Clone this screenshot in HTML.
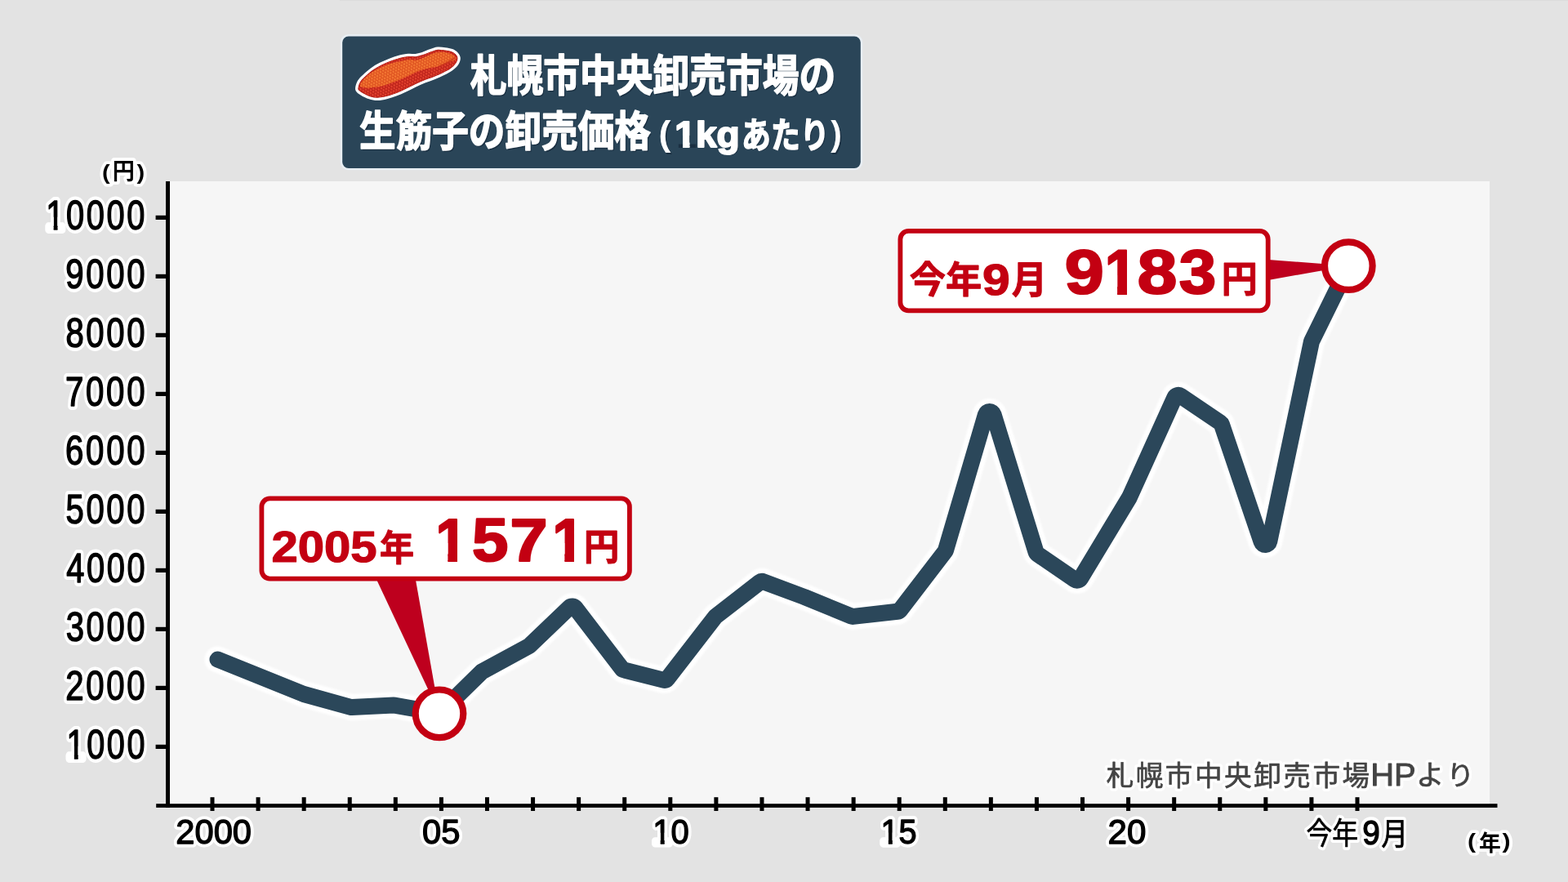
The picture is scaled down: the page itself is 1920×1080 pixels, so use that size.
<!DOCTYPE html>
<html lang="ja"><head><meta charset="utf-8"><title>札幌市中央卸売市場の生筋子の卸売価格</title>
<style>
html,body{margin:0;padding:0;background:#e3e3e3;}
body{width:1920px;height:1080px;overflow:hidden;font-family:"Liberation Sans","Noto Sans CJK JP",sans-serif;}
svg{display:block;position:absolute;left:0;top:0}
text{font-family:"Liberation Sans","Noto Sans CJK JP",sans-serif;font-kerning:none;white-space:pre}
.halo text{stroke:#fff;stroke-linejoin:round;fill:#fff}
</style></head>
<body>
<svg width="1920" height="1080" viewBox="0 0 1920 1080" role="img">
<desc>札幌市中央卸売市場の生筋子の卸売価格(1kgあたり) 2005年 1571円 / 今年9月 9183円 — 札幌市中央卸売市場HPより</desc>
<defs><filter id="soft" x="-5%" y="-20%" width="110%" height="140%"><feGaussianBlur stdDeviation="0.55"/></filter><filter id="soft2" x="-5%" y="-5%" width="110%" height="110%"><feGaussianBlur stdDeviation="1.1"/></filter><pattern id="roe" width="3.6" height="6.24" patternUnits="userSpaceOnUse" patternTransform="rotate(-24)"><circle cx="0.9" cy="1.56" r="1.4" fill="#e4432f"/><circle cx="2.7" cy="4.68" r="1.4" fill="#e4432f"/></pattern><pattern id="roe2" width="3.6" height="6.24" patternUnits="userSpaceOnUse" patternTransform="rotate(-24)"><circle cx="0.9" cy="1.56" r="1.4" fill="#f57a34"/><circle cx="2.7" cy="4.68" r="1.4" fill="#f57a34"/></pattern><clipPath id="kr16"><path d="M-20 -90H90V-30H35.58V5H23.55V-30H-20Z"/></clipPath><clipPath id="kr17"><path d="M-20 -90H90V-30H35.72V5H23.41V-30H-20Z"/></clipPath><clipPath id="kb15"><path d="M-20 -90H90V-30H38.59V5H21.81V-30H-20Z"/></clipPath><clipPath id="kb16"><path d="M-20 -90H90V-30H38.64V5H21.76V-30H-20Z"/></clipPath><clipPath id="kb23"><path d="M-20 -90H90V-30H39.37V5H21.03V-30H-20Z"/></clipPath></defs>
<rect width="1920" height="1080" fill="#e3e3e3"/>
<rect x="416" y="0" width="1504" height="1" fill="#dcdcdc"/>
<rect x="208" y="222" width="1616" height="764" fill="#f6f6f6"/>
<g transform="scale(1.0 1)" fill="none" stroke-linejoin="round" stroke-linecap="round"><path d="M266.5 807.5L372 850L429.23 865.79A5 5 0 0 0 430.8 865.96L481.93 863.53A5 5 0 0 1 483.06 863.6L535.46 873.04A5 5 0 0 0 539.84 871.69L589.5 822.99A5 5 0 0 1 590.62 822.17L647.41 791.32A5 5 0 0 0 648.48 790.54L697.16 743.88A5 5 0 0 1 704.59 744.44L761.44 818.62A5 5 0 0 0 764.18 820.43L812.14 832.62A5 5 0 0 0 817.33 830.83L875.61 755.5A5 5 0 0 1 876.5 754.61L930.19 712.99A5 5 0 0 1 935 712.26L985 731L1042.31 754.51A5 5 0 0 0 1044.77 754.86L1098.89 748.74A5 5 0 0 0 1102.29 746.81L1157.23 675.24A5 5 0 0 0 1158.06 673.61L1206.94 507.59A5 5 0 0 1 1216.51 507.53L1268.49 675.83A5 5 0 0 0 1270.44 678.48L1316.11 709.74A5 5 0 0 0 1323.22 708.19L1383 609L1438.3 486.75A5 5 0 0 1 1445.66 484.68L1494.11 517.56A5 5 0 0 1 1496.04 520.09L1544.67 663.6A5 5 0 0 0 1554.3 663.03L1605.87 418.61A5 5 0 0 1 1606.28 417.44L1651.5 325.5" stroke="#fff" stroke-width="32" filter="url(#soft2)"/>
<path d="M266.5 807.5L372 850L429.23 865.79A5 5 0 0 0 430.8 865.96L481.93 863.53A5 5 0 0 1 483.06 863.6L535.46 873.04A5 5 0 0 0 539.84 871.69L589.5 822.99A5 5 0 0 1 590.62 822.17L647.41 791.32A5 5 0 0 0 648.48 790.54L697.16 743.88A5 5 0 0 1 704.59 744.44L761.44 818.62A5 5 0 0 0 764.18 820.43L812.14 832.62A5 5 0 0 0 817.33 830.83L875.61 755.5A5 5 0 0 1 876.5 754.61L930.19 712.99A5 5 0 0 1 935 712.26L985 731L1042.31 754.51A5 5 0 0 0 1044.77 754.86L1098.89 748.74A5 5 0 0 0 1102.29 746.81L1157.23 675.24A5 5 0 0 0 1158.06 673.61L1206.94 507.59A5 5 0 0 1 1216.51 507.53L1268.49 675.83A5 5 0 0 0 1270.44 678.48L1316.11 709.74A5 5 0 0 0 1323.22 708.19L1383 609L1438.3 486.75A5 5 0 0 1 1445.66 484.68L1494.11 517.56A5 5 0 0 1 1496.04 520.09L1544.67 663.6A5 5 0 0 0 1554.3 663.03L1605.87 418.61A5 5 0 0 1 1606.28 417.44L1651.5 325.5" stroke="#2b475a" stroke-width="20"/></g>
<g fill="#000">
<rect x="203" y="222" width="5" height="767"/>
<rect x="191.2" y="984.2" width="1642.3" height="4.7"/>
<rect x="190.6" y="911.8" width="15" height="5.2"/>
<rect x="190.6" y="839.8" width="15" height="5.2"/>
<rect x="190.6" y="767.8" width="15" height="5.2"/>
<rect x="190.6" y="695.8" width="15" height="5.2"/>
<rect x="190.6" y="623.8" width="15" height="5.2"/>
<rect x="190.6" y="551.8" width="15" height="5.2"/>
<rect x="190.6" y="479.8" width="15" height="5.2"/>
<rect x="190.6" y="407.8" width="15" height="5.2"/>
<rect x="190.6" y="335.8" width="15" height="5.2"/>
<rect x="190.6" y="263.8" width="15" height="5.2"/>
<rect x="257.5" y="976.2" width="5" height="16.8"/>
<rect x="313.58" y="976.2" width="5" height="16.8"/>
<rect x="369.66" y="976.2" width="5" height="16.8"/>
<rect x="425.74" y="976.2" width="5" height="16.8"/>
<rect x="481.82" y="976.2" width="5" height="16.8"/>
<rect x="537.9" y="976.2" width="5" height="16.8"/>
<rect x="593.98" y="976.2" width="5" height="16.8"/>
<rect x="650.06" y="976.2" width="5" height="16.8"/>
<rect x="706.14" y="976.2" width="5" height="16.8"/>
<rect x="762.22" y="976.2" width="5" height="16.8"/>
<rect x="818.3" y="976.2" width="5" height="16.8"/>
<rect x="874.38" y="976.2" width="5" height="16.8"/>
<rect x="930.46" y="976.2" width="5" height="16.8"/>
<rect x="986.54" y="976.2" width="5" height="16.8"/>
<rect x="1042.62" y="976.2" width="5" height="16.8"/>
<rect x="1098.7" y="976.2" width="5" height="16.8"/>
<rect x="1154.78" y="976.2" width="5" height="16.8"/>
<rect x="1210.86" y="976.2" width="5" height="16.8"/>
<rect x="1266.94" y="976.2" width="5" height="16.8"/>
<rect x="1323.02" y="976.2" width="5" height="16.8"/>
<rect x="1379.1" y="976.2" width="5" height="16.8"/>
<rect x="1435.18" y="976.2" width="5" height="16.8"/>
<rect x="1491.26" y="976.2" width="5" height="16.8"/>
<rect x="1547.34" y="976.2" width="5" height="16.8"/>
<rect x="1603.42" y="976.2" width="5" height="16.8"/>
<rect x="1659.5" y="976.2" width="5" height="16.8"/>
</g>
<g class="halo" filter="url(#soft)" aria-hidden="true" font-size="100">
<g transform="translate(81.54 928.76) scale(0.39609 0.49999)" stroke-width="20.09"><text x="0" letter-spacing="6.6">1000</text></g>
<g transform="translate(80.13 856.76) scale(0.40201 0.49999)" stroke-width="19.96"><text x="0" letter-spacing="6.6">2000</text></g>
<g transform="translate(80.63 784.76) scale(0.39992 0.49999)" stroke-width="20"><text x="0" letter-spacing="6.6">3000</text></g>
<g transform="translate(81.24 712.76) scale(0.39736 0.49999)" stroke-width="20.06"><text x="0" letter-spacing="6.6">4000</text></g>
<g transform="translate(80.55 640.76) scale(0.40025 0.49999)" stroke-width="19.99"><text x="0" letter-spacing="6.6">5000</text></g>
<g transform="translate(80.11 568.76) scale(0.40210 0.49999)" stroke-width="19.95"><text x="0" letter-spacing="6.6">6000</text></g>
<g transform="translate(80.09 496.76) scale(0.40218 0.49999)" stroke-width="19.95"><text x="0" letter-spacing="6.6">7000</text></g>
<g transform="translate(80.41 424.76) scale(0.40084 0.49999)" stroke-width="19.98"><text x="0" letter-spacing="6.6">8000</text></g>
<g transform="translate(80.27 352.76) scale(0.40143 0.49999)" stroke-width="19.97"><text x="0" letter-spacing="6.6">9000</text></g>
<g transform="translate(56.32 280.76) scale(0.39801 0.49999)" stroke-width="20.05"><text x="0" letter-spacing="6.6">10000</text></g>
<g transform="translate(215.3 1032.63) scale(0.41681 0.42726)" stroke-width="21.09"><text x="0">2000</text></g>
<g transform="translate(517.07 1032.63) scale(0.41697 0.42726)" stroke-width="21.08"><text x="0">05</text></g>
<g transform="translate(799.35 1032.63) scale(0.40018 0.42726)" stroke-width="21.51"><text x="0">10</text></g>
<g transform="translate(1078.59 1032.63) scale(0.39625 0.43353)" stroke-width="21.45"><text x="0">15</text></g>
<g transform="translate(1356.58 1032.63) scale(0.42133 0.42726)" stroke-width="20.98"><text x="0">20</text></g>
<g transform="translate(1668.18 1034.09) scale(0.38752 0.42090)" stroke-width="22.02"><text x="0">9</text></g>
<g transform="translate(1599.45 1034.11) scale(0.3181 0.3735)" stroke-width="21.69"><text x="0">今年</text></g>
<g transform="translate(1691.45 1033.8) scale(0.3259 0.3766)" stroke-width="21.35"><text x="0">月</text></g>
<g transform="translate(1796.93 1039.43) scale(0.3029 0.2609)" stroke-width="26.61" font-weight="bold"><text x="0">(</text></g>
<g transform="translate(1810.91 1042.25) scale(0.2687 0.2722)" stroke-width="27.73" font-weight="bold"><text x="0">年</text></g>
<g transform="translate(1839.42 1039.43) scale(0.3029 0.2609)" stroke-width="26.61" font-weight="bold"><text x="0">)</text></g>
<g transform="translate(125.03 219.63) scale(0.2905 0.2657)" stroke-width="26.97" font-weight="bold"><text x="0">(</text></g>
<g transform="translate(137.83 220.01) scale(0.2712 0.2800)" stroke-width="27.21" font-weight="bold"><text x="0">円</text></g>
<g transform="translate(167.49 219.63) scale(0.2905 0.2657)" stroke-width="26.97" font-weight="bold"><text x="0">)</text></g>
<g transform="translate(1354.63 961.54) scale(0.3360 0.3362)" stroke-width="22.32"><text x="0" letter-spacing="7.5">札幌市中央卸売市場</text></g>
<g transform="translate(1678.17 961.55) scale(0.39940 0.37937)" stroke-width="21.57"><text x="0">HP</text></g>
<g transform="translate(1733.97 960.73) scale(0.3447 0.3402)" stroke-width="21.9"><text x="0">よ</text></g>
<g transform="translate(1771.03 961.1) scale(0.3453 0.3337)" stroke-width="22.09"><text x="0">り</text></g>
</g>
<g><g transform="translate(81.54 928.76) scale(0.39609 0.49999)" font-size="100" fill="#000" stroke="#000" stroke-width="3" stroke-linejoin="round"><text transform="translate(0 0)" clip-path="url(#kr16)">1</text><text x="62.22" letter-spacing="6.6">000</text></g><g transform="translate(80.13 856.76) scale(0.40201 0.49999)" font-size="100" fill="#000" stroke="#000" stroke-width="3" stroke-linejoin="round"><text x="0" letter-spacing="6.6">2000</text></g><g transform="translate(80.63 784.76) scale(0.39992 0.49999)" font-size="100" fill="#000" stroke="#000" stroke-width="3" stroke-linejoin="round"><text x="0" letter-spacing="6.6">3000</text></g><g transform="translate(81.24 712.76) scale(0.39736 0.49999)" font-size="100" fill="#000" stroke="#000" stroke-width="3" stroke-linejoin="round"><text x="0" letter-spacing="6.6">4000</text></g><g transform="translate(80.55 640.76) scale(0.40025 0.49999)" font-size="100" fill="#000" stroke="#000" stroke-width="3" stroke-linejoin="round"><text x="0" letter-spacing="6.6">5000</text></g><g transform="translate(80.11 568.76) scale(0.40210 0.49999)" font-size="100" fill="#000" stroke="#000" stroke-width="3" stroke-linejoin="round"><text x="0" letter-spacing="6.6">6000</text></g><g transform="translate(80.09 496.76) scale(0.40218 0.49999)" font-size="100" fill="#000" stroke="#000" stroke-width="3" stroke-linejoin="round"><text x="0" letter-spacing="6.6">7000</text></g><g transform="translate(80.41 424.76) scale(0.40084 0.49999)" font-size="100" fill="#000" stroke="#000" stroke-width="3" stroke-linejoin="round"><text x="0" letter-spacing="6.6">8000</text></g><g transform="translate(80.27 352.76) scale(0.40143 0.49999)" font-size="100" fill="#000" stroke="#000" stroke-width="3" stroke-linejoin="round"><text x="0" letter-spacing="6.6">9000</text></g><g transform="translate(56.32 280.76) scale(0.39801 0.49999)" font-size="100" fill="#000" stroke="#000" stroke-width="3" stroke-linejoin="round"><text transform="translate(0 0)" clip-path="url(#kr16)">1</text><text x="62.22" letter-spacing="6.6">0000</text></g><g transform="translate(215.3 1032.63) scale(0.41681 0.42726)" font-size="100" fill="#000" stroke="#000" stroke-width="3.28" stroke-linejoin="round"><text x="0">2000</text></g><g transform="translate(517.07 1032.63) scale(0.41697 0.42726)" font-size="100" fill="#000" stroke="#000" stroke-width="3.28" stroke-linejoin="round"><text x="0">05</text></g><g transform="translate(799.35 1032.63) scale(0.40018 0.42726)" font-size="100" fill="#000" stroke="#000" stroke-width="3.28" stroke-linejoin="round"><text transform="translate(0 0)" clip-path="url(#kr17)">1</text><text x="55.62">0</text></g><g transform="translate(1078.59 1032.63) scale(0.39625 0.43353)" font-size="100" fill="#000" stroke="#000" stroke-width="3.23" stroke-linejoin="round"><text transform="translate(0 0)" clip-path="url(#kr17)">1</text><text x="55.62">5</text></g><g transform="translate(1356.58 1032.63) scale(0.42133 0.42726)" font-size="100" fill="#000" stroke="#000" stroke-width="3.28" stroke-linejoin="round"><text x="0">20</text></g><g transform="translate(1668.18 1034.09) scale(0.38752 0.42090)" font-size="100" fill="#000" stroke="#000" stroke-width="3.33" stroke-linejoin="round"><text x="0">9</text></g><g transform="translate(1599.45 1034.11) scale(0.3181 0.3735)" font-size="100" fill="#000" stroke="#000" stroke-width="2" stroke-linejoin="round"><text x="0">今年</text></g><g transform="translate(1691.45 1033.8) scale(0.3259 0.3766)" font-size="100" fill="#000" stroke="#000" stroke-width="2" stroke-linejoin="round"><text x="0">月</text></g><g transform="translate(1796.93 1039.43) scale(0.3029 0.2609)" font-size="100" font-weight="bold" fill="#000"><text x="0">(</text></g><g transform="translate(1810.91 1042.25) scale(0.2687 0.2722)" font-size="100" font-weight="bold" fill="#000"><text x="0">年</text></g><g transform="translate(1839.42 1039.43) scale(0.3029 0.2609)" font-size="100" font-weight="bold" fill="#000"><text x="0">)</text></g><g transform="translate(125.03 219.63) scale(0.2905 0.2657)" font-size="100" font-weight="bold" fill="#000"><text x="0">(</text></g><g transform="translate(137.83 220.01) scale(0.2712 0.2800)" font-size="100" font-weight="bold" fill="#000"><text x="0">円</text></g><g transform="translate(167.49 219.63) scale(0.2905 0.2657)" font-size="100" font-weight="bold" fill="#000"><text x="0">)</text></g><g transform="translate(1354.63 961.54) scale(0.3360 0.3362)" font-size="100" fill="#444" stroke="#444" stroke-width="2" stroke-linejoin="round"><text x="0" letter-spacing="7.5">札幌市中央卸売市場</text></g><g transform="translate(1678.17 961.55) scale(0.39940 0.37937)" font-size="100" fill="#444" stroke="#444" stroke-width="2.37" stroke-linejoin="round"><text x="0">HP</text></g><g transform="translate(1733.97 960.73) scale(0.3447 0.3402)" font-size="100" fill="#444" stroke="#444" stroke-width="2" stroke-linejoin="round"><text x="0">よ</text></g><g transform="translate(1771.03 961.1) scale(0.3453 0.3337)" font-size="100" fill="#444" stroke="#444" stroke-width="2" stroke-linejoin="round"><text x="0">り</text></g></g>
<polygon points="1553,318 1651.5,325.5 1553,343" fill="#be001e"/>
<rect x="1102.4" y="282.9" width="450.3" height="97.4" rx="10" ry="10" fill="#fff" stroke="#c30012" stroke-width="5.8"/>
<polygon points="460.3,708 508.6,708 538,873.5" fill="#be001e"/>
<rect x="320.4" y="610.4" width="450.5" height="98.2" rx="10" ry="10" fill="#fff" stroke="#c30012" stroke-width="5.8"/>
<circle cx="1651.3" cy="325.6" r="29.3" fill="#fff" stroke="#c30012" stroke-width="8.2"/>
<circle cx="538" cy="873.8" r="29.3" fill="#fff" stroke="#c30012" stroke-width="8.2"/>
<g><g transform="translate(1113.65 359.29) scale(0.4427 0.4548)" font-size="100" font-weight="bold" fill="#c30012" stroke="#c30012" stroke-width="2" stroke-linejoin="round"><text x="0">今年</text></g><g transform="translate(1202.9 361.38) scale(0.60697 0.53389)" font-size="100" font-weight="bold" fill="#c30012" stroke="#c30012" stroke-width="2.25" stroke-linejoin="round"><text x="0">9</text></g><g transform="translate(1238.66 359.1) scale(0.4335 0.4636)" font-size="100" font-weight="bold" fill="#c30012" stroke="#c30012" stroke-width="2" stroke-linejoin="round"><text x="0">月</text></g><g transform="translate(1303.71 359.46) scale(0.86297 0.75988)" font-size="100" font-weight="bold" fill="#c30012" stroke="#c30012" stroke-width="2.9" stroke-linejoin="round"><text x="0">9</text></g><g transform="translate(1352.66 359.8) scale(0.70803 0.77036)" font-size="100" font-weight="bold" fill="#c30012" stroke="#c30012" stroke-width="2.86" stroke-linejoin="round"><text transform="translate(0 0)" clip-path="url(#kb15)">1</text></g><g transform="translate(1392.63 359.46) scale(0.87308 0.75988)" font-size="100" font-weight="bold" fill="#c30012" stroke="#c30012" stroke-width="2.9" stroke-linejoin="round"><text x="0">8</text></g><g transform="translate(1443.63 359.35) scale(0.81679 0.75831)" font-size="100" font-weight="bold" fill="#c30012" stroke="#c30012" stroke-width="2.9" stroke-linejoin="round"><text x="0">3</text></g><g transform="translate(1495.46 358.23) scale(0.4443 0.4499)" font-size="100" font-weight="bold" fill="#c30012" stroke="#c30012" stroke-width="2" stroke-linejoin="round"><text x="0">円</text></g><g transform="translate(332.59 687.63) scale(0.57999 0.53036)" font-size="100" font-weight="bold" fill="#c30012" stroke="#c30012" stroke-width="2.26" stroke-linejoin="round"><text x="0">2005</text></g><g transform="translate(464.73 687.02) scale(0.4240 0.4455)" font-size="100" font-weight="bold" fill="#c30012" stroke="#c30012" stroke-width="2" stroke-linejoin="round"><text x="0">年</text></g><g transform="translate(533.4 687.25) scale(0.68818 0.74347)" font-size="100" font-weight="bold" fill="#c30012" stroke="#c30012" stroke-width="2.96" stroke-linejoin="round"><text transform="translate(0 0)" clip-path="url(#kb16)">1</text></g><g transform="translate(578.05 686.92) scale(0.79790 0.74453)" font-size="100" font-weight="bold" fill="#c30012" stroke="#c30012" stroke-width="2.95" stroke-linejoin="round"><text x="0">5</text></g><g transform="translate(624.44 687.25) scale(0.82900 0.74347)" font-size="100" font-weight="bold" fill="#c30012" stroke="#c30012" stroke-width="2.96" stroke-linejoin="round"><text x="0">7</text></g><g transform="translate(676.4 687.25) scale(0.68818 0.74347)" font-size="100" font-weight="bold" fill="#c30012" stroke="#c30012" stroke-width="2.96" stroke-linejoin="round"><text transform="translate(0 0)" clip-path="url(#kb16)">1</text></g><g transform="translate(714.77 686.26) scale(0.4367 0.4567)" font-size="100" font-weight="bold" fill="#c30012" stroke="#c30012" stroke-width="2" stroke-linejoin="round"><text x="0">円</text></g></g>
<rect x="416.7" y="42" width="639.6" height="166.3" rx="9.8" fill="#e8eef3"/>
<rect x="419.2" y="44.4" width="634.6" height="161.5" rx="7.6" fill="#2a4558"/>
<g aria-hidden="true">
<clipPath id="bodyc"><path d="M438.98 107.79C439.26 106.22 439.97 102.95 441.35 100.69C442.74 98.43 444.81 96.57 447.3 94.22C449.78 91.87 453.02 88.9 456.27 86.57C459.52 84.25 463.15 82.14 466.79 80.27C470.43 78.39 474.35 76.8 478.11 75.33C481.88 73.87 485.67 72.44 489.37 71.48C493.08 70.52 497.03 69.87 500.34 69.58C503.65 69.3 506.18 70.14 509.24 69.77C512.3 69.41 515.53 68.42 518.7 67.41C521.87 66.4 525.34 64.7 528.25 63.69C531.16 62.69 533.45 61.65 536.18 61.38C538.92 61.11 541.94 61.69 544.67 62.06C547.4 62.44 550.37 62.8 552.54 63.62C554.71 64.44 556.46 65.73 557.69 66.99C558.91 68.26 559.85 69.54 559.9 71.19C559.96 72.84 559.39 74.9 558.02 76.9C556.64 78.89 554.32 81.23 551.66 83.18C549 85.13 545.57 86.87 542.06 88.61C538.56 90.34 534.49 92.02 530.63 93.59C526.78 95.15 522.84 96.39 518.93 97.99C515.01 99.59 511.06 101.34 507.15 103.17C503.24 105 499.31 107.17 495.45 108.96C491.6 110.76 487.78 112.53 484.02 113.95C480.26 115.37 476.56 116.63 472.9 117.5C469.25 118.38 465.41 119.19 462.1 119.2C458.79 119.21 456.03 118.53 453.07 117.58C450.11 116.63 446.57 114.76 444.34 113.52C442.11 112.28 440.59 111.08 439.69 110.12C438.8 109.17 438.7 109.37 438.98 107.79Z"/></clipPath>
<path d="M435.1 107.4C435.33 105.1 436.42 101.37 438 98.7C439.58 96.03 441.93 93.95 444.6 91.4C447.27 88.85 450.6 85.83 454 83.4C457.4 80.97 461.22 78.75 465 76.8C468.78 74.85 472.8 73.22 476.7 71.7C480.6 70.18 484.52 68.7 488.4 67.7C492.28 66.7 496.6 66 500 65.7C503.4 65.4 505.88 66.23 508.8 65.9C511.72 65.57 514.47 64.68 517.5 63.7C520.53 62.72 523.95 61.03 527 60C530.05 58.97 532.77 57.8 535.8 57.5C538.83 57.2 542.17 57.78 545.2 58.2C548.23 58.62 551.43 58.97 554 60C556.57 61.03 558.97 62.57 560.6 64.4C562.23 66.23 563.68 68.57 563.8 71C563.92 73.43 562.93 76.45 561.3 79C559.67 81.55 556.92 84.12 554 86.3C551.08 88.48 547.45 90.28 543.8 92.1C540.15 93.92 536 95.62 532.1 97.2C528.2 98.78 524.28 100.02 520.4 101.6C516.52 103.18 512.68 104.88 508.8 106.7C504.92 108.52 501 110.68 497.1 112.5C493.2 114.32 489.28 116.13 485.4 117.6C481.52 119.07 477.68 120.38 473.8 121.3C469.92 122.22 465.75 123.1 462.1 123.1C458.45 123.1 455.18 122.33 451.9 121.3C448.62 120.27 444.95 118.37 442.4 116.9C439.85 115.43 437.82 114.08 436.6 112.5C435.38 110.92 434.87 109.7 435.1 107.4Z" fill="#fff"/>
<path d="M438.98 107.79C439.26 106.22 439.97 102.95 441.35 100.69C442.74 98.43 444.81 96.57 447.3 94.22C449.78 91.87 453.02 88.9 456.27 86.57C459.52 84.25 463.15 82.14 466.79 80.27C470.43 78.39 474.35 76.8 478.11 75.33C481.88 73.87 485.67 72.44 489.37 71.48C493.08 70.52 497.03 69.87 500.34 69.58C503.65 69.3 506.18 70.14 509.24 69.77C512.3 69.41 515.53 68.42 518.7 67.41C521.87 66.4 525.34 64.7 528.25 63.69C531.16 62.69 533.45 61.65 536.18 61.38C538.92 61.11 541.94 61.69 544.67 62.06C547.4 62.44 550.37 62.8 552.54 63.62C554.71 64.44 556.46 65.73 557.69 66.99C558.91 68.26 559.85 69.54 559.9 71.19C559.96 72.84 559.39 74.9 558.02 76.9C556.64 78.89 554.32 81.23 551.66 83.18C549 85.13 545.57 86.87 542.06 88.61C538.56 90.34 534.49 92.02 530.63 93.59C526.78 95.15 522.84 96.39 518.93 97.99C515.01 99.59 511.06 101.34 507.15 103.17C503.24 105 499.31 107.17 495.45 108.96C491.6 110.76 487.78 112.53 484.02 113.95C480.26 115.37 476.56 116.63 472.9 117.5C469.25 118.38 465.41 119.19 462.1 119.2C458.79 119.21 456.03 118.53 453.07 117.58C450.11 116.63 446.57 114.76 444.34 113.52C442.11 112.28 440.59 111.08 439.69 110.12C438.8 109.17 438.7 109.37 438.98 107.79Z" fill="#b92018" stroke="#ad1a14" stroke-width="1.2"/>
<g clip-path="url(#bodyc)"><rect x="430" y="52" width="140" height="76" fill="url(#roe)"/><path d="M440.94 104.87C440.69 102.9 443.98 98.73 446.77 95.75C449.57 92.77 453.7 89.55 457.71 87C461.72 84.45 466.22 82.26 470.83 80.44C475.45 78.62 480.56 77.28 485.42 76.06C490.28 74.85 495.87 73.54 500 73.15C504.13 72.76 506.69 74.34 510.21 73.73C513.73 73.12 517.26 71.03 521.15 69.5C525.04 67.97 529.78 65.45 533.54 64.54C537.31 63.63 540.35 63.63 543.75 64.03C547.16 64.43 551.63 65.49 553.96 66.95C556.29 68.41 558.72 71.2 557.75 72.78C556.78 74.36 551.8 75.03 548.13 76.43C544.46 77.83 539.62 79.99 535.73 81.17C531.84 82.35 528.44 82.63 524.79 83.5C521.15 84.38 517.5 85.1 513.86 86.42C510.21 87.73 506.56 89.7 502.92 91.38C499.27 93.05 495.63 94.9 491.98 96.48C488.33 98.06 484.57 99.52 481.04 100.86C477.52 102.19 474.48 103.5 470.83 104.5C467.19 105.5 462.93 106.32 459.17 106.83C455.4 107.34 451.27 107.89 448.23 107.56C445.19 107.24 441.18 106.83 440.94 104.87Z" fill="#dc501f"/><path d="M440.94 104.87C440.69 102.9 443.98 98.73 446.77 95.75C449.57 92.77 453.7 89.55 457.71 87C461.72 84.45 466.22 82.26 470.83 80.44C475.45 78.62 480.56 77.28 485.42 76.06C490.28 74.85 495.87 73.54 500 73.15C504.13 72.76 506.69 74.34 510.21 73.73C513.73 73.12 517.26 71.03 521.15 69.5C525.04 67.97 529.78 65.45 533.54 64.54C537.31 63.63 540.35 63.63 543.75 64.03C547.16 64.43 551.63 65.49 553.96 66.95C556.29 68.41 558.72 71.2 557.75 72.78C556.78 74.36 551.8 75.03 548.13 76.43C544.46 77.83 539.62 79.99 535.73 81.17C531.84 82.35 528.44 82.63 524.79 83.5C521.15 84.38 517.5 85.1 513.86 86.42C510.21 87.73 506.56 89.7 502.92 91.38C499.27 93.05 495.63 94.9 491.98 96.48C488.33 98.06 484.57 99.52 481.04 100.86C477.52 102.19 474.48 103.5 470.83 104.5C467.19 105.5 462.93 106.32 459.17 106.83C455.4 107.34 451.27 107.89 448.23 107.56C445.19 107.24 441.18 106.83 440.94 104.87Z" fill="url(#roe2)"/><path d="M537.92 80.8Q549.59 76.06 557.24 70.59" fill="none" stroke="#cf3a1d" stroke-width="1.6"/></g>
</g>
<g transform="translate(1.6 1.6)" opacity=".7" fill="#16283a" aria-hidden="true" font-size="100" font-weight="bold"><g transform="translate(575.67 111.93) scale(0.4477 0.5318)"><text x="0">札幌市中央卸売市場の</text></g><g transform="translate(440.04 179.38) scale(0.4462 0.5166)"><text x="0">生筋子の卸売価格</text></g><g transform="translate(806.38 178.18) scale(0.4466 0.4302)"><text x="0">(</text></g><g transform="translate(826.35 179.61) scale(0.46099 0.45274)"><text x="0">1kg</text></g><g transform="translate(908.09 180.68) scale(0.3588 0.4345)"><text x="0">あたり</text></g><g transform="translate(1017.17 178.38) scale(0.4084 0.4207)"><text x="0">)</text></g></g>
<g><g transform="translate(575.67 111.93) scale(0.4477 0.5318)" font-size="100" font-weight="bold" fill="#fff" stroke="#fff" stroke-width="3.06" stroke-linejoin="round"><text x="0">札幌市中央卸売市場の</text></g><g transform="translate(440.04 179.38) scale(0.4462 0.5166)" font-size="100" font-weight="bold" fill="#fff" stroke="#fff" stroke-width="3.12" stroke-linejoin="round"><text x="0">生筋子の卸売価格</text></g><g transform="translate(806.38 178.18) scale(0.4466 0.4302)" font-size="100" font-weight="bold" fill="#fff"><text x="0">(</text></g><g transform="translate(826.35 179.61) scale(0.46099 0.45274)" font-size="100" font-weight="bold" fill="#fff" stroke="#fff" stroke-width="4.42" stroke-linejoin="round"><text transform="translate(0 0)" clip-path="url(#kb23)">1</text><text x="55.62">kg</text></g><g transform="translate(908.09 180.68) scale(0.3588 0.4345)" font-size="100" font-weight="bold" fill="#fff" stroke="#fff" stroke-width="3.53" stroke-linejoin="round"><text x="0">あたり</text></g><g transform="translate(1017.17 178.38) scale(0.4084 0.4207)" font-size="100" font-weight="bold" fill="#fff"><text x="0">)</text></g></g>
</svg>
</body></html>
